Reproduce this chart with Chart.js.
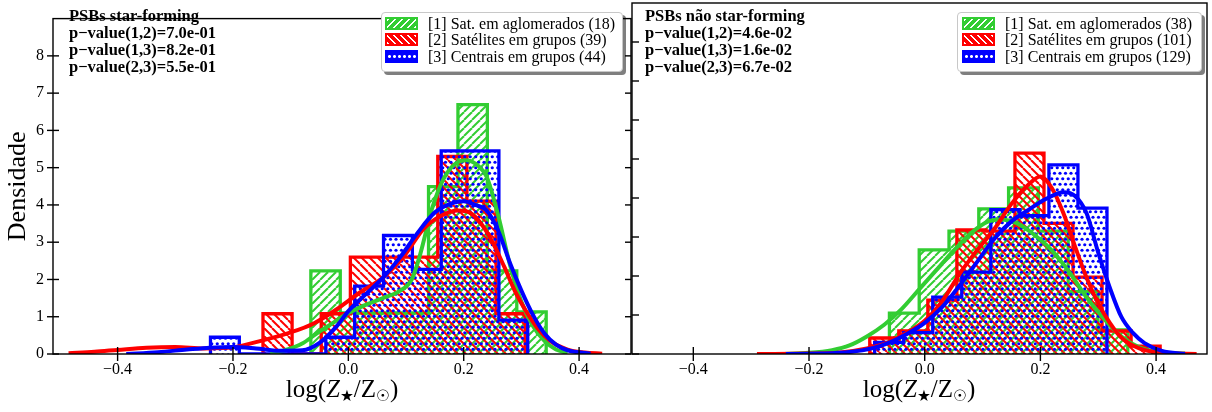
<!DOCTYPE html>
<html lang="pt">
<head>
<meta charset="utf-8">
<title>PSBs - metalicidade</title>
<script src="https://cdn.jsdelivr.net/npm/chart.js@4.4.0/dist/chart.umd.min.js"></script>
<style>
  html, body { margin: 0; padding: 0; background: #fff; }
  #wrap { position: relative; width: 1212px; height: 412px; overflow: hidden;
          font-family: "Liberation Serif", "DejaVu Serif", serif; color: #000; }
  canvas { position: absolute; top: 0; }
  .note { position: absolute; top: 7px; font-weight: bold; font-size: 16.5px; line-height: 17px; white-space: nowrap; }
  .legend { position: absolute; top: 12px; height: 58px; background: #fff; border: 1px solid #c8c8c8;
            border-radius: 4px; box-shadow: 3px 3px 0 rgba(0, 0, 0, 0.5); }
  .legend .row { position: absolute; left: 0; height: 16px; font-size: 16px; line-height: 16px; white-space: nowrap; }
  .legend .sw { position: absolute; top: 1px; width: 29px; height: 9px; border: 2px solid; }
  .legend .lbl { position: absolute; top: 0; }
  .xlab { position: absolute; top: 376px; font-size: 25px; line-height: 25px; transform: translateX(-50%); white-space: nowrap; }
  .xlab sub { font-size: 62%; line-height: 0; vertical-align: -0.25em; font-family: "DejaVu Sans", sans-serif; }
</style>
</head>
<body>
<div id="wrap">
  <canvas id="chartSF" width="632" height="412" style="left:0"></canvas>
  <canvas id="chartNSF" width="581" height="412" style="left:631px"></canvas>
  <div class="note" style="left:69px">PSBs star-forming<br>p−value(1,2)=7.0e-01<br>p−value(1,3)=8.2e-01<br>p−value(2,3)=5.5e-01</div>
  <div class="note" style="left:645px">PSBs não star-forming<br>p−value(1,2)=4.6e-02<br>p−value(1,3)=1.6e-02<br>p−value(2,3)=6.7e-02</div>
  <div class="legend" id="legSF" style="left:381px;width:240px"></div>
  <div class="legend" id="legNSF" style="left:957px;width:243px"></div>
  <div class="xlab" style="left:342px">log(<i>Z</i><sub>★</sub>/Z<sub>☉</sub>)</div>
  <div class="xlab" style="left:919px">log(<i>Z</i><sub>★</sub>/Z<sub>☉</sub>)</div>
</div>
<script>
const xTicks = [-0.4, -0.2, 0.0, 0.2, 0.4];
const yTicks = [0, 1, 2, 3, 4, 5, 6, 7, 8];

const groupNames = ['[1] Sat. em aglomerados', '[2] Satélites em grupos', '[3] Centrais em grupos'];
const countsSF = [18, 39, 44];
const countsNSF = [38, 101, 129];

// PSBs star-forming: histogram bin edges and densities
const sfGreenEdges = [-0.065, -0.014, 0.037, 0.088, 0.139, 0.190, 0.241, 0.292, 0.343];
const sfGreenDens = [2.23, 1.1, 1.1, 1.1, 4.49, 6.69, 2.23, 1.13];
const sfRedEdges = [-0.148, -0.0975, -0.047, 0.0035, 0.054, 0.1045, 0.155, 0.2055, 0.256, 0.3065];
const sfRedDens = [1.08, 0, 1.08, 2.6, 2.6, 2.6, 5.3, 4.1, 1.08];
const sfBlueEdges = [-0.239, -0.189, -0.139, -0.089, -0.039, 0.011, 0.061, 0.111, 0.161, 0.211, 0.261, 0.311];
const sfBlueDens = [0.45, 0, 0, 0, 0.45, 1.82, 3.18, 2.27, 5.45, 5.45, 0.91];

// PSBs star-forming: KDE curves
const sfGreenKdeX = [-0.135, -0.11, -0.08, -0.055, -0.03, 0.0, 0.03, 0.06, 0.09, 0.11, 0.125, 0.145, 0.165, 0.185, 0.205, 0.225, 0.24, 0.26, 0.28, 0.3, 0.32, 0.34, 0.36, 0.38];
const sfGreenKdeY = [0.0, 0.1, 0.28, 0.55, 0.8, 1.1, 1.32, 1.5, 1.7, 2.0, 2.7, 3.9, 4.7, 5.1, 5.2, 5.05, 4.75, 3.7, 2.4, 1.4, 0.75, 0.35, 0.12, 0.03];
const sfRedKdeX = [-0.485, -0.44, -0.4, -0.35, -0.3, -0.25, -0.2, -0.15, -0.1, -0.06, -0.02, 0.02, 0.06, 0.1, 0.13, 0.16, 0.19, 0.21, 0.23, 0.25, 0.27, 0.29, 0.31, 0.33, 0.35, 0.38, 0.41, 0.44];
const sfRedKdeY = [0.02, 0.06, 0.11, 0.17, 0.19, 0.15, 0.18, 0.36, 0.58, 0.82, 1.2, 1.65, 2.05, 2.7, 3.35, 3.7, 3.85, 3.8, 3.5, 3.0, 2.35, 1.65, 1.1, 0.65, 0.35, 0.12, 0.04, 0.01];
const sfBlueKdeX = [-0.385, -0.33, -0.28, -0.24, -0.2, -0.16, -0.12, -0.08, -0.05, -0.02, 0.0, 0.03, 0.06, 0.09, 0.12, 0.15, 0.18, 0.2, 0.22, 0.24, 0.26, 0.28, 0.3, 0.32, 0.34, 0.36, 0.38, 0.42];
const sfBlueKdeY = [0.0, 0.05, 0.12, 0.17, 0.19, 0.15, 0.09, 0.1, 0.3, 0.75, 1.15, 1.6, 2.05, 2.6, 3.25, 3.8, 4.05, 4.1, 4.0, 3.85, 3.3, 2.45, 1.7, 1.05, 0.55, 0.25, 0.1, 0.01];

// PSBs nao star-forming: histogram bin edges and densities
const nsfGreenEdges = [-0.061, -0.0095, 0.042, 0.0935, 0.145, 0.1965, 0.248, 0.2995, 0.351];
const nsfGreenDens = [1.05, 2.67, 3.15, 3.72, 4.26, 3.15, 1.6, 0.62];
const nsfRedEdges = [-0.095, -0.0448, 0.0054, 0.0556, 0.1058, 0.156, 0.2062, 0.2564, 0.3066, 0.3568, 0.407];
const nsfRedDens = [0.41, 0.59, 1.38, 3.18, 3.15, 5.15, 3.35, 1.97, 0.59, 0.2];
const nsfBlueEdges = [-0.0865, -0.0363, 0.0139, 0.0641, 0.1143, 0.1645, 0.2147, 0.2649, 0.3151];
const nsfBlueDens = [0.3, 0.55, 1.46, 2.1, 3.7, 3.55, 4.85, 3.74];

// PSBs nao star-forming: KDE curves
const nsfGreenKdeX = [-0.25, -0.2, -0.16, -0.13, -0.1, -0.07, -0.04, -0.01, 0.02, 0.05, 0.08, 0.11, 0.13, 0.16, 0.19, 0.22, 0.25, 0.28, 0.31, 0.34, 0.37, 0.4, 0.45];
const nsfGreenKdeY = [0.0, 0.03, 0.1, 0.22, 0.45, 0.75, 1.15, 1.65, 2.15, 2.65, 3.1, 3.4, 3.45, 3.35, 3.05, 2.65, 2.1, 1.45, 0.9, 0.45, 0.18, 0.06, 0.01];
const nsfRedKdeX = [-0.29, -0.2, -0.15, -0.1, -0.06, -0.03, 0.0, 0.03, 0.06, 0.09, 0.12, 0.15, 0.18, 0.2, 0.22, 0.24, 0.26, 0.28, 0.3, 0.32, 0.34, 0.37, 0.41, 0.47];
const nsfRedKdeY = [0.0, 0.01, 0.03, 0.14, 0.32, 0.55, 0.85, 1.35, 2.05, 2.65, 3.2, 3.85, 4.35, 4.55, 4.25, 3.6, 2.75, 1.95, 1.3, 0.8, 0.42, 0.15, 0.03, 0.0];
const nsfBlueKdeX = [-0.24, -0.18, -0.13, -0.09, -0.06, -0.03, 0.0, 0.03, 0.06, 0.09, 0.12, 0.15, 0.18, 0.21, 0.24, 0.26, 0.28, 0.3, 0.32, 0.34, 0.36, 0.38, 0.41, 0.45];
const nsfBlueKdeY = [0.0, 0.01, 0.05, 0.15, 0.3, 0.52, 0.8, 1.2, 1.75, 2.35, 2.95, 3.4, 3.7, 3.98, 4.15, 4.05, 3.6, 2.6, 1.7, 0.95, 0.54, 0.28, 0.08, 0.0];

const GREEN = '#32cd32';
const RED = '#ff0000';
const BLUE = '#0000ff';
const FONT = "'Liberation Serif', 'DejaVu Serif', serif";

function stripePattern(color, forward) {
  const s = 8;
  const c = document.createElement('canvas');
  c.width = s; c.height = s;
  const g = c.getContext('2d');
  g.strokeStyle = color;
  g.lineWidth = 2;
  for (let k = -1; k <= 1; k++) {
    g.beginPath();
    if (forward) { g.moveTo(k * s, s); g.lineTo(k * s + s, 0); }
    else { g.moveTo(k * s, 0); g.lineTo(k * s + s, s); }
    g.stroke();
  }
  return g.createPattern(c, 'repeat');
}

function dotPattern(color) {
  const s = 11;
  const c = document.createElement('canvas');
  c.width = s; c.height = s;
  const g = c.getContext('2d');
  g.fillStyle = color;
  [[2.75, 2.75], [8.25, 2.75], [0, 8.25], [5.5, 8.25], [11, 8.25]].forEach(([x, y]) => {
    g.beginPath();
    g.arc(x, y, 1.6, 0, Math.PI * 2);
    g.fill();
  });
  return g.createPattern(c, 'repeat');
}

const greenHatch = stripePattern(GREEN, true);
const redHatch = stripePattern(RED, false);
const blueHatch = dotPattern(BLUE);

function histPoints(edges, dens) {
  const pts = [{ x: edges[0], y: 0 }];
  dens.forEach((d, i) => pts.push({ x: edges[i], y: d }));
  pts.push({ x: edges[edges.length - 1], y: 0 });
  return pts;
}

function kdePoints(xs, ys) {
  return xs.map((x, i) => ({ x, y: ys[i] }));
}

function histDataset(edges, dens, color, hatch, order) {
  return {
    data: histPoints(edges, dens),
    stepped: true,
    fill: 'origin',
    backgroundColor: hatch,
    borderColor: color,
    borderWidth: 3.3,
    borderJoinStyle: 'miter',
    pointRadius: 0,
    order
  };
}

function kdeDataset(xs, ys, color, order) {
  return {
    data: kdePoints(xs, ys),
    fill: false,
    borderColor: color,
    borderWidth: 4,
    cubicInterpolationMode: 'monotone',
    pointRadius: 0,
    order
  };
}

function fmtTick(v) {
  return v < 0 ? '\u2212' + Math.abs(v).toFixed(1) : v.toFixed(1);
}

// frame and in/out tick marks, placed through the chart scales
const framePlugin = {
  id: 'frame',
  afterDraw(chart, args, opts) {
    const { ctx, chartArea: a, scales } = chart;
    ctx.save();
    ctx.strokeStyle = '#000';
    ctx.lineWidth = 1.4;
    const seg = (x1, y1, x2, y2) => { ctx.beginPath(); ctx.moveTo(x1, y1); ctx.lineTo(x2, y2); ctx.stroke(); };
    xTicks.forEach(v => {
      const px = scales.x.getPixelForValue(v);
      seg(px, a.bottom - 7, px, a.bottom + 7);
    });
    yTicks.forEach(v => {
      const py = scales.y.getPixelForValue(v);
      if (opts.leftOut) seg(a.left - 6, py, a.left + 6, py);
      else seg(a.left, py, a.left + 7, py);
      if (opts.rightIn) seg(a.right - 6, py, a.right, py);
    });
    ctx.strokeRect(a.left, a.top, a.right - a.left, a.bottom - a.top);
    ctx.restore();
  }
};

function buildChart(canvasId, datasets, xMin, xMax, showY, padding) {
  const ctx = document.getElementById(canvasId).getContext('2d');
  return new Chart(ctx, {
    type: 'line',
    data: { datasets },
    plugins: [framePlugin],
    options: {
      animation: false,
      responsive: false,
      events: [],
      layout: { padding },
      plugins: {
        legend: { display: false },
        tooltip: { enabled: false },
        frame: { leftOut: showY, rightIn: showY }
      },
      scales: {
        x: {
          type: 'linear',
          min: xMin,
          max: xMax,
          afterBuildTicks: (scale) => { scale.ticks = xTicks.map(v => ({ value: v })); },
          afterFit: (scale) => { scale.height = 58; },
          ticks: {
            callback: fmtTick,
            color: '#000',
            padding: 6,
            maxRotation: 0,
            font: { family: FONT, size: 16 }
          },
          grid: { display: false, drawTicks: false },
          border: { display: false }
        },
        y: {
          display: showY,
          min: 0,
          max: 9,
          afterBuildTicks: (scale) => { scale.ticks = yTicks.map(v => ({ value: v })); },
          afterFit: (scale) => { scale.width = showY ? 53 : 0; },
          ticks: {
            callback: (v) => String(v),
            color: '#000',
            padding: 9,
            font: { family: FONT, size: 16 }
          },
          title: {
            display: true,
            text: 'Densidade',
            color: '#000',
            padding: { top: 3, bottom: 0 },
            font: { family: FONT, size: 26 }
          },
          grid: { display: false, drawTicks: false },
          border: { display: false }
        }
      }
    }
  });
}

buildChart('chartSF', [
  histDataset(sfGreenEdges, sfGreenDens, GREEN, greenHatch, 6),
  histDataset(sfRedEdges, sfRedDens, RED, redHatch, 5),
  histDataset(sfBlueEdges, sfBlueDens, BLUE, blueHatch, 4),
  kdeDataset(sfGreenKdeX, sfGreenKdeY, GREEN, 3),
  kdeDataset(sfRedKdeX, sfRedKdeY, RED, 2),
  kdeDataset(sfBlueKdeX, sfBlueKdeY, BLUE, 1)
], -0.512, 0.490, true, { top: 3, right: 1, left: 0, bottom: 0 });

buildChart('chartNSF', [
  histDataset(nsfGreenEdges, nsfGreenDens, GREEN, greenHatch, 6),
  histDataset(nsfRedEdges, nsfRedDens, RED, redHatch, 5),
  histDataset(nsfBlueEdges, nsfBlueDens, BLUE, blueHatch, 4),
  kdeDataset(nsfGreenKdeX, nsfGreenKdeY, GREEN, 3),
  kdeDataset(nsfRedKdeX, nsfRedKdeY, RED, 2),
  kdeDataset(nsfBlueKdeX, nsfBlueKdeY, BLUE, 1)
], -0.506, 0.488, false, { top: 3, right: 5, left: 1, bottom: 0 });

// legends: swatch + label per group
const swatchBg = [
  'repeating-linear-gradient(135deg, #fff 0 1.6px, ' + GREEN + ' 1.6px 5px)',
  'repeating-linear-gradient(45deg, #fff 0 1.6px, ' + RED + ' 1.6px 5px)',
  'radial-gradient(circle, #fff 1.2px, transparent 1.7px) 0 50% / 5px 9px repeat-x, ' + BLUE
];
const swatchColor = [GREEN, RED, BLUE];

function fillLegend(id, counts, swLeft, lblLeft) {
  const box = document.getElementById(id);
  counts.forEach((n, i) => {
    const row = document.createElement('div');
    row.className = 'row';
    row.style.top = (3 + i * 16.3) + 'px';
    const sw = document.createElement('div');
    sw.className = 'sw';
    sw.style.left = swLeft + 'px';
    sw.style.borderColor = swatchColor[i];
    sw.style.background = swatchBg[i];
    const lbl = document.createElement('div');
    lbl.className = 'lbl';
    lbl.style.left = lblLeft + 'px';
    lbl.textContent = groupNames[i] + ' (' + n + ')';
    row.appendChild(sw);
    row.appendChild(lbl);
    box.appendChild(row);
  });
}

fillLegend('legSF', countsSF, 3, 46);
fillLegend('legNSF', countsNSF, 4, 47);
</script>
</body>
</html>
